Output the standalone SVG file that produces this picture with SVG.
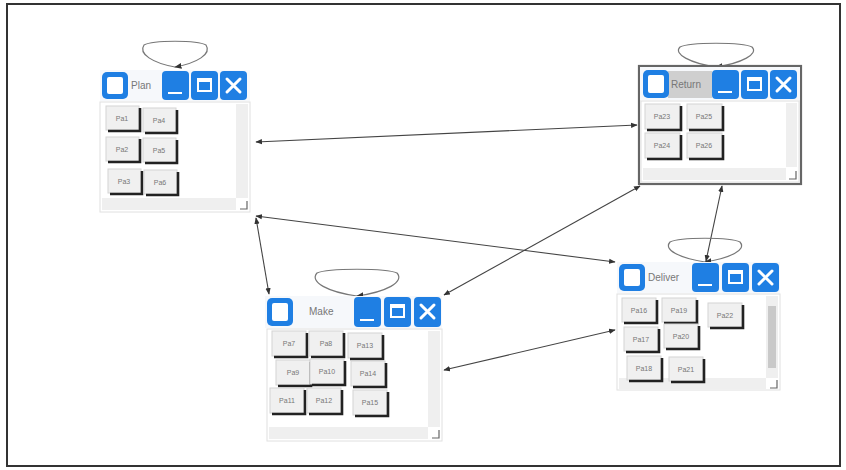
<svg xmlns="http://www.w3.org/2000/svg" width="846" height="470" viewBox="0 0 846 470">
<defs>
<style>
.tb{fill:#f6f8fb}
.ico{fill:#1f7fe3}
.wh{fill:#ffffff}
.body{fill:#ffffff;stroke:#e0e0e0;stroke-width:1}
.sb{fill:#efefef}
.btn{fill:#f0f0f0;stroke:#d4d4d4;stroke-width:1}
.sh{fill:none;stroke:#222;stroke-width:2.6}
.bt{font-family:"Liberation Sans",Arial,sans-serif;font-size:7px;fill:#777;text-anchor:middle}
.tt{font-family:"Liberation Sans",Arial,sans-serif;font-size:10px;fill:#777}
.x{stroke:#fff;stroke-width:3;stroke-linecap:round}
.cn{fill:none;stroke:#444;stroke-width:1.1}
.lp{fill:none;stroke:#777;stroke-width:1.2}
.cr{fill:none;stroke:#666;stroke-width:1.2}
</style>
<marker id="ah" viewBox="0 0 10 10" refX="9" refY="5" markerWidth="6" markerHeight="6" orient="auto-start-reverse">
<path d="M0,1 L10,5 L0,9 z" fill="#333"/>
</marker>
</defs>
<rect x="7" y="4" width="833" height="462" fill="#fff" stroke="#333" stroke-width="2"/>

<g id="connectors">
<line class="cn" x1="256" y1="142" x2="637" y2="125" marker-start="url(#ah)" marker-end="url(#ah)"/>
<line class="cn" x1="256" y1="218" x2="269" y2="294" marker-start="url(#ah)" marker-end="url(#ah)"/>
<line class="cn" x1="256" y1="216" x2="615" y2="262" marker-start="url(#ah)" marker-end="url(#ah)"/>
<line class="cn" x1="640" y1="186" x2="444" y2="295" marker-start="url(#ah)" marker-end="url(#ah)"/>
<line class="cn" x1="722" y1="186" x2="706" y2="261" marker-start="url(#ah)" marker-end="url(#ah)"/>
<line class="cn" x1="444" y1="370" x2="615" y2="330" marker-start="url(#ah)" marker-end="url(#ah)"/>
<path class="lp" d="M175,67 C153,63 138,54 144,45 C153,40 197,40 206,45 C212,54 197,63 175,67" marker-end="url(#ah)"/>
<path class="lp" d="M716,67 C690,63 673,54 680,47 C690,42 742,42 752,47 C759,54 742,63 716,67" marker-end="url(#ah)"/>
<path class="lp" d="M705,262 C680,258 663,250 670,242 C680,237 730,237 740,242 C747,250 730,258 705,262" marker-end="url(#ah)"/>
<path class="lp" d="M357,296 C328,292 309,282 317,273 C328,268 386,268 397,273 C405,282 386,292 357,296" marker-end="url(#ah)"/>
</g>

<g id="plan">
<rect class="tb" x="100" y="70" width="150" height="31"/>
<rect class="ico" x="102" y="72" width="26" height="27" rx="5"/><rect class="wh" x="107" y="77" width="16" height="17" rx="2"/>
<text class="tt" x="131" y="89">Plan</text>
<rect class="ico" x="162" y="71" width="27" height="29" rx="4"/><rect class="wh" x="168" y="92" width="14" height="2"/>
<rect class="ico" x="191" y="71" width="27" height="29" rx="4"/><rect class="wh" x="197" y="78" width="15" height="14"/><rect class="ico" x="199" y="82" width="11" height="8"/>
<rect class="ico" x="220" y="71" width="27" height="29" rx="4"/><path class="x" d="M227,79 L240,92 M240,79 L227,92"/>
<rect class="body" x="100" y="102" width="150" height="110"/>
<rect class="sb" x="236" y="104" width="12" height="94"/>
<rect class="sb" x="102" y="198" width="134" height="12"/>
<path class="cr" d="M247,201 V209 H240"/>
<g><rect class="btn" x="106" y="106" width="33" height="24"/><path class="sh" d="M108,131 H140 V108"/><text class="bt" x="122" y="121">Pa1</text></g>
<g><rect class="btn" x="143" y="108" width="33" height="24"/><path class="sh" d="M145,133 H177 V110"/><text class="bt" x="159" y="123">Pa4</text></g>
<g><rect class="btn" x="106" y="137" width="33" height="24"/><path class="sh" d="M108,162 H140 V139"/><text class="bt" x="122" y="152">Pa2</text></g>
<g><rect class="btn" x="143" y="138" width="33" height="24"/><path class="sh" d="M145,163 H177 V140"/><text class="bt" x="159" y="153">Pa5</text></g>
<g><rect class="btn" x="108" y="169" width="33" height="24"/><path class="sh" d="M110,194 H142 V171"/><text class="bt" x="124" y="184">Pa3</text></g>
<g><rect class="btn" x="144" y="170" width="33" height="24"/><path class="sh" d="M146,195 H178 V172"/><text class="bt" x="160" y="185">Pa6</text></g>
</g>

<g id="return">
<rect x="639" y="66" width="162" height="118" fill="#fff" stroke="#666" stroke-width="2.2"/>
<rect class="tb" x="640" y="67" width="160" height="33"/>
<rect x="668" y="71" width="44" height="27" fill="#cfcfcf"/>
<rect class="ico" x="643" y="70" width="26" height="28" rx="5"/><rect class="wh" x="648" y="75" width="16" height="18" rx="2"/>
<text class="tt" x="671" y="88">Return</text>
<rect class="ico" x="712" y="70" width="27" height="29" rx="4"/><rect class="wh" x="718" y="91" width="14" height="2"/>
<rect class="ico" x="741" y="70" width="27" height="29" rx="4"/><rect class="wh" x="747" y="77" width="15" height="14"/><rect class="ico" x="749" y="81" width="11" height="8"/>
<rect class="ico" x="770" y="70" width="27" height="29" rx="4"/><path class="x" d="M777,78 L790,91 M790,78 L777,91"/>
<rect class="body" x="641" y="101" width="158" height="81"/>
<rect class="sb" x="786" y="103" width="11" height="64"/>
<rect class="sb" x="643" y="168" width="143" height="12"/>
<path class="cr" d="M796,171 V179 H789"/>
<g><rect class="btn" x="645" y="104" width="35" height="25"/><path class="sh" d="M647,130 H681 V106"/><text class="bt" x="662" y="119">Pa23</text></g>
<g><rect class="btn" x="687" y="104" width="35" height="25"/><path class="sh" d="M689,130 H723 V106"/><text class="bt" x="704" y="119">Pa25</text></g>
<g><rect class="btn" x="645" y="133" width="35" height="25"/><path class="sh" d="M647,159 H681 V135"/><text class="bt" x="662" y="148">Pa24</text></g>
<g><rect class="btn" x="687" y="133" width="35" height="25"/><path class="sh" d="M689,159 H723 V135"/><text class="bt" x="704" y="148">Pa26</text></g>
</g>

<g id="deliver">
<rect class="tb" x="617" y="262" width="163" height="31"/>
<rect class="ico" x="619" y="264" width="26" height="27" rx="5"/><rect class="wh" x="624" y="269" width="16" height="17" rx="2"/>
<text class="tt" x="648" y="281">Deliver</text>
<rect class="ico" x="692" y="263" width="27" height="29" rx="4"/><rect class="wh" x="698" y="284" width="14" height="2"/>
<rect class="ico" x="722" y="263" width="27" height="29" rx="4"/><rect class="wh" x="728" y="270" width="15" height="14"/><rect class="ico" x="730" y="274" width="11" height="8"/>
<rect class="ico" x="752" y="263" width="27" height="29" rx="4"/><path class="x" d="M759,271 L772,284 M772,271 L759,284"/>
<rect class="body" x="617" y="294" width="163" height="96"/>
<rect class="sb" x="766" y="296" width="12" height="82"/>
<rect x="768" y="306" width="8" height="62" fill="#c9c9c9"/>
<rect class="sb" x="619" y="378" width="147" height="11"/>
<path class="cr" d="M777,380 V388 H770"/>
<g><rect class="btn" x="622" y="298" width="34" height="24"/><path class="sh" d="M624,323 H657 V300"/><text class="bt" x="639" y="313">Pa16</text></g>
<g><rect class="btn" x="662" y="298" width="34" height="24"/><path class="sh" d="M664,323 H697 V300"/><text class="bt" x="679" y="313">Pa19</text></g>
<g><rect class="btn" x="708" y="303" width="34" height="24"/><path class="sh" d="M710,328 H743 V305"/><text class="bt" x="725" y="318">Pa22</text></g>
<g><rect class="btn" x="624" y="327" width="34" height="24"/><path class="sh" d="M626,352 H659 V329"/><text class="bt" x="641" y="342">Pa17</text></g>
<g><rect class="btn" x="664" y="324" width="34" height="24"/><path class="sh" d="M666,349 H699 V326"/><text class="bt" x="681" y="339">Pa20</text></g>
<g><rect class="btn" x="627" y="356" width="34" height="24"/><path class="sh" d="M629,381 H662 V358"/><text class="bt" x="644" y="371">Pa18</text></g>
<g><rect class="btn" x="669" y="357" width="34" height="24"/><path class="sh" d="M671,382 H704 V359"/><text class="bt" x="686" y="372">Pa21</text></g>
</g>

<g id="make">
<rect class="tb" x="265" y="296" width="177" height="32"/>
<rect class="ico" x="267" y="298" width="26" height="28" rx="5"/><rect class="wh" x="272" y="303" width="16" height="18" rx="2"/>
<text class="tt" x="309" y="315">Make</text>
<rect class="ico" x="354" y="297" width="27" height="30" rx="4"/><rect class="wh" x="360" y="319" width="14" height="2"/>
<rect class="ico" x="384" y="297" width="27" height="30" rx="4"/><rect class="wh" x="390" y="304" width="15" height="14"/><rect class="ico" x="392" y="308" width="11" height="8"/>
<rect class="ico" x="414" y="297" width="27" height="30" rx="4"/><path class="x" d="M421,305 L434,318 M434,305 L421,318"/>
<rect class="body" x="267" y="329" width="175" height="112"/>
<rect class="sb" x="428" y="331" width="12" height="96"/>
<rect class="sb" x="269" y="427" width="159" height="12"/>
<path class="cr" d="M439,430 V438 H432"/>
<g><rect class="btn" x="272" y="331" width="34" height="25"/><path class="sh" d="M274,357 H307 V333"/><text class="bt" x="289" y="346">Pa7</text></g>
<g><rect class="btn" x="309" y="331" width="34" height="25"/><path class="sh" d="M311,357 H344 V333"/><text class="bt" x="326" y="346">Pa8</text></g>
<g><rect class="btn" x="348" y="333" width="34" height="25"/><path class="sh" d="M350,359 H383 V335"/><text class="bt" x="365" y="348">Pa13</text></g>
<g><rect class="btn" x="276" y="360" width="34" height="25"/><path class="sh" d="M278,386 H311 V362"/><text class="bt" x="293" y="375">Pa9</text></g>
<g><rect class="btn" x="310" y="359" width="34" height="25"/><path class="sh" d="M312,385 H345 V361"/><text class="bt" x="327" y="374">Pa10</text></g>
<g><rect class="btn" x="351" y="361" width="34" height="25"/><path class="sh" d="M353,387 H386 V363"/><text class="bt" x="368" y="376">Pa14</text></g>
<g><rect class="btn" x="270" y="388" width="34" height="25"/><path class="sh" d="M272,414 H305 V390"/><text class="bt" x="287" y="403">Pa11</text></g>
<g><rect class="btn" x="307" y="388" width="34" height="25"/><path class="sh" d="M309,414 H342 V390"/><text class="bt" x="324" y="403">Pa12</text></g>
<g><rect class="btn" x="353" y="390" width="34" height="25"/><path class="sh" d="M355,416 H388 V392"/><text class="bt" x="370" y="405">Pa15</text></g>
</g>
</svg>
